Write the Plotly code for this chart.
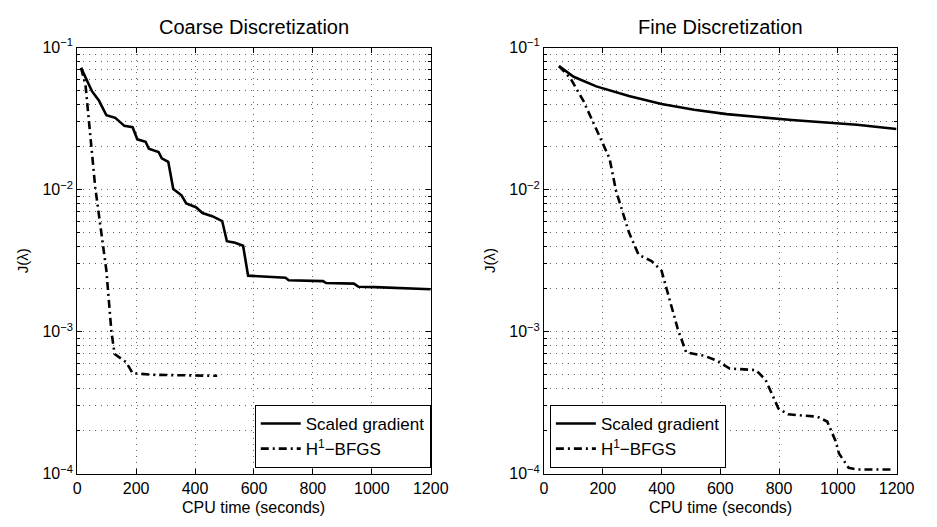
import plotly.graph_objects as go

# ---------------- data ----------------
coarse_sg_t = [13, 50, 74, 99, 129, 160, 188, 204, 232, 243, 276, 287, 309, 326, 354, 370, 403, 425,
               458, 492, 508, 536, 563, 580, 707, 718, 834, 845, 939, 955, 1011, 1200]
coarse_sg_j = [0.072, 0.0493, 0.0422, 0.0334, 0.032, 0.0281, 0.0275, 0.0226, 0.0217, 0.0194, 0.0184,
               0.0166, 0.0157, 0.0101, 0.00912, 0.0080, 0.00752, 0.00684, 0.0065, 0.00601, 0.00433,
               0.00422, 0.00403, 0.00248, 0.0024, 0.0023, 0.00227, 0.0022, 0.00218, 0.00207, 0.00206, 0.00199]

coarse_bf_t = [13, 28, 61, 94, 99, 116, 127, 166, 188, 260, 475]
coarse_bf_j = [0.072, 0.0547, 0.0104, 0.00298, 0.00269, 0.00100, 0.000695, 0.00061, 0.00051, 0.000497, 0.000489]

fine_sg_t = [51, 101, 178, 289, 400, 511, 622, 843, 1065, 1200]
fine_sg_j = [0.074, 0.0623, 0.0533, 0.0456, 0.0401, 0.0365, 0.034, 0.0309, 0.0286, 0.0267]

fine_bf_t = [51, 90, 134, 195, 223, 245, 289, 322, 366, 400, 422, 455, 484, 544, 588, 632, 721, 754,
             798, 831, 931, 964, 992, 1004, 1037, 1065, 1188]
fine_bf_j = [0.074, 0.0607, 0.0422, 0.0226, 0.0166, 0.00985, 0.0050, 0.00348, 0.00314, 0.00269, 0.00187,
             0.00105, 0.000714, 0.000678, 0.000627, 0.00055, 0.000537, 0.000459, 0.000288, 0.000262,
             0.000252, 0.000233, 0.000171, 0.000139, 0.00011, 0.000107, 0.000107]

x_ticks = [0, 200, 400, 600, 800, 1000, 1200]
y_ticks = [1e-4, 1e-3, 1e-2, 1e-1]
y_ticktext = ["10<sup>−4</sup>", "10<sup>−3</sup>", "10<sup>−2</sup>", "10<sup>−1</sup>"]
minor_y = [m * 10 ** e for e in (-4, -3, -2) for m in range(2, 10)]

titles = ["Coarse Discretization", "Fine Discretization"]
names = ["Scaled gradient", "H<sup>1</sup>−BFGS"]
x_title = "CPU time (seconds)"
y_title = "J(λ)"

FONT = "Liberation Sans, Arial, Helvetica, sans-serif"
DASHDOT = "8px,4px,2px,4px"
GRIDDASH = "1px,5px"
GRIDCOL = "rgba(0,0,0,0.6)"

fig = go.Figure()

panels = [(coarse_sg_t, coarse_sg_j, coarse_bf_t, coarse_bf_j, "x", "y", "legend"),
          (fine_sg_t, fine_sg_j, fine_bf_t, fine_bf_j, "x2", "y2", "legend2")]
for sgt, sgj, bft, bfj, xa, ya, lg in panels:
    fig.add_trace(go.Scatter(x=sgt, y=sgj, mode="lines", name=names[0], xaxis=xa, yaxis=ya,
                             legend=lg, line=dict(color="black", width=2.6)))
    fig.add_trace(go.Scatter(x=bft, y=bfj, mode="lines", name=names[1], xaxis=xa, yaxis=ya,
                             legend=lg, line=dict(color="black", width=2.6, dash=DASHDOT)))

W, H = 937, 527
xdoms = [[75 / W, 437 / W], [553 / W, 914 / W]]
ydom = [1 - 481 / H, 1 - 38 / H]

grid = dict(showgrid=True, gridcolor=GRIDCOL, griddash=GRIDDASH, gridwidth=1)
tickfont = dict(family=FONT, size=16, color="black")
for i, suf in enumerate(["", "2"]):
    fig.layout["xaxis" + suf] = dict(
        domain=xdoms[i], range=[0, 1200], tickmode="array", tickvals=x_ticks,
        ticks="inside", ticklen=5, tickcolor="black", showline=True, linecolor="black",
        linewidth=1, mirror="allticks", zeroline=False, tickfont=tickfont,
        anchor="y" + suf, **grid)
    fig.layout["yaxis" + suf] = dict(
        domain=ydom, type="log", range=[-4, -1], tickmode="array", tickvals=y_ticks,
        ticktext=y_ticktext, ticks="inside", ticklen=5, tickcolor="black", showline=True,
        linecolor="black", linewidth=1, mirror="allticks", zeroline=False, tickfont=tickfont,
        minor=dict(tickmode="array", tickvals=minor_y, ticks="inside", ticklen=3,
                   tickcolor="black", showgrid=True, gridcolor=GRIDCOL,
                   griddash=GRIDDASH, gridwidth=1),
        anchor="x" + suf, **grid)

ytitle_x = [19, 497]
for i in range(2):
    xc = (xdoms[i][0] + xdoms[i][1]) / 2
    fig.add_annotation(text=titles[i], xref="paper", yref="paper", x=xc, y=1 - 17 / H,
                       showarrow=False, font=dict(family=FONT, size=20, color="black"),
                       xanchor="center", yanchor="middle")
    fig.add_annotation(text=x_title, xref="paper", yref="paper", x=xc, y=1 - 516 / H,
                       showarrow=False, font=dict(family=FONT, size=16, color="black"),
                       xanchor="center", yanchor="middle")
    fig.add_annotation(text=y_title, xref="paper", yref="paper", x=ytitle_x[i] / W,
                       y=(ydom[0] + ydom[1]) / 2, textangle=-90,
                       showarrow=False, font=dict(family=FONT, size=15, color="black"),
                       xanchor="center", yanchor="middle")

legfont = dict(family=FONT, size=17, color="black")
fig.update_layout(
    width=W, height=H, margin=dict(l=0, r=0, t=0, b=0),
    paper_bgcolor="white", plot_bgcolor="white",
    legend=dict(x=437 / W, y=1 - 475 / H, xanchor="right", yanchor="bottom",
                bgcolor="white", bordercolor="black", borderwidth=1, font=legfont,
                tracegroupgap=0, itemwidth=40),
    legend2=dict(x=559 / W, y=1 - 475 / H, xanchor="left", yanchor="bottom",
                 bgcolor="white", bordercolor="black", borderwidth=1, font=legfont,
                 tracegroupgap=0, itemwidth=40),
)

fig.write_html("out.html", post_script="document.body.style.margin='0';")
